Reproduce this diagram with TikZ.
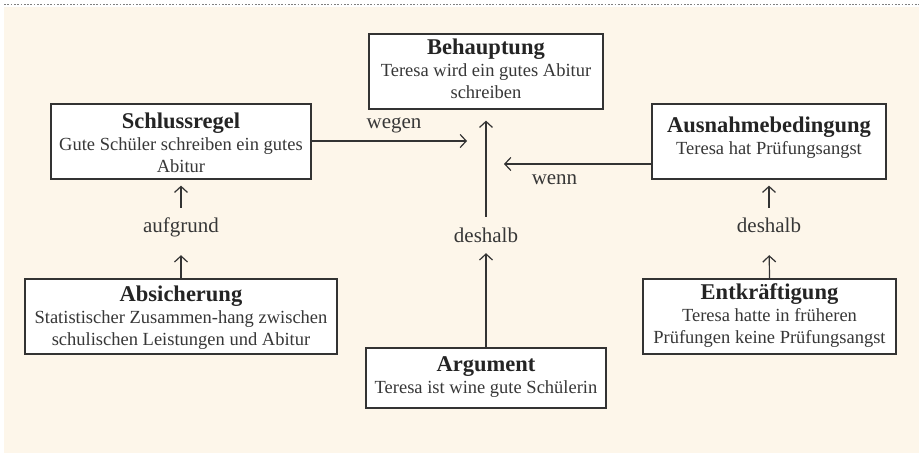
\documentclass[tikz,border=0pt]{standalone}
\usepackage{fontspec}
\setmainfont{Liberation Serif}
\usetikzlibrary{arrows.meta}
\definecolor{cream}{RGB}{253,246,234}
\definecolor{ink}{RGB}{51,51,51}
\definecolor{txt}{RGB}{55,55,55}
\definecolor{ttlc}{RGB}{36,36,36}
\newcommand\boxtitle[1]{{\fontsize{22.5}{22}\selectfont\bfseries\color{ttlc}#1}}
\newcommand\topstrut[1]{\rule{0pt}{#1}}
\newcommand\botstrut[1]{\rule[-#1]{0pt}{#1}}
\begin{document}
\begin{tikzpicture}[x=1pt,y=-1pt,
  box/.style={draw=ink, line width=1.3pt, fill=white, align=center, inner sep=0pt,
    font=\fontsize{18.5}{22}\selectfont, text=txt},
  lbl/.style={inner sep=0pt, text height=13pt, text depth=4pt, anchor=base,
    font=\fontsize{21}{24}\selectfont, text=txt},
  arr/.style={draw=ink, line width=1.2pt, -{Straight Barb[length=6pt,width=13pt]}}]
\useasboundingbox (0,0) rectangle (919,454);
\fill[cream] (4,7) rectangle (919,453);
\draw[gray, line width=1pt, dash pattern=on 1.7pt off 1.6pt] (4,5) -- (919,5);

% boxes
\node[box, minimum width=234pt, minimum height=75pt] (beh) at (486,71.5)
  {\topstrut{17pt}\boxtitle{Behauptung}\\Teresa wird ein gutes Abitur\\schreiben\botstrut{6pt}};
\node[box, minimum width=260pt, minimum height=75pt] (schluss) at (181,141.5)
  {\topstrut{25pt}\boxtitle{Schlussregel}\\Gute Schüler schreiben ein gutes\\Abitur\botstrut{6pt}};
\node[box, minimum width=234pt, minimum height=75pt] (aus) at (769,141.5)
  {\topstrut{16pt}\boxtitle{Ausnahmebedingung}\\Teresa hat Prüfungsangst\botstrut{11pt}};
\node[box, minimum width=312pt, minimum height=75pt] (absich) at (181,316.5)
  {\topstrut{21pt}\boxtitle{Absicherung}\\Statistischer Zusammen-hang zwischen\\schulischen Leistungen und Abitur\botstrut{6pt}};
\node[box, minimum width=253pt, minimum height=75pt] (entk) at (769.5,316.5)
  {\topstrut{17pt}\boxtitle{Entkräftigung}\\Teresa hatte in früheren\\Prüfungen keine Prüfungsangst\botstrut{6pt}};
\node[box, minimum width=240pt, minimum height=60pt] (arg) at (486,378)
  {\topstrut{16pt}\boxtitle{Argument}\\Teresa ist wine gute Schülerin\botstrut{6pt}};

% labels
\node[lbl] (wegen) at (394,129) {wegen};
\node[lbl] (wenn) at (554.5,185) {wenn};
\node[lbl] (aufgrund) at (181,233) {aufgrund};
\node[lbl] (deshalbR) at (769,233) {deshalb};
\node[lbl] (deshalbM) at (486,243) {deshalb};

% free ends
\coordinate (wegenend) at (467,141);
\coordinate (wennend) at (504,164);

% connectors
\draw[arr] (schluss.east |- wegenend) -- (wegenend);
\draw[arr] (aus.west |- wennend) -- (wennend);

\draw[arr, shorten <=13pt, shorten >=11pt] (deshalbM.north) -- (beh.south);
\draw[arr, shorten >=6pt] (arg.north) -- (deshalbM.south);

\draw[arr, shorten <=12pt, shorten >=6pt] (aufgrund.north) -- (schluss.south);
\draw[arr, shorten >=18pt] (absich.north) -- (aufgrund.south);

\draw[arr, shorten <=12pt, shorten >=6pt] (deshalbR.north) -- (aus.south);
\draw[arr, shorten >=18pt] (entk.north) -- (deshalbR.south);
\end{tikzpicture}
\end{document}
